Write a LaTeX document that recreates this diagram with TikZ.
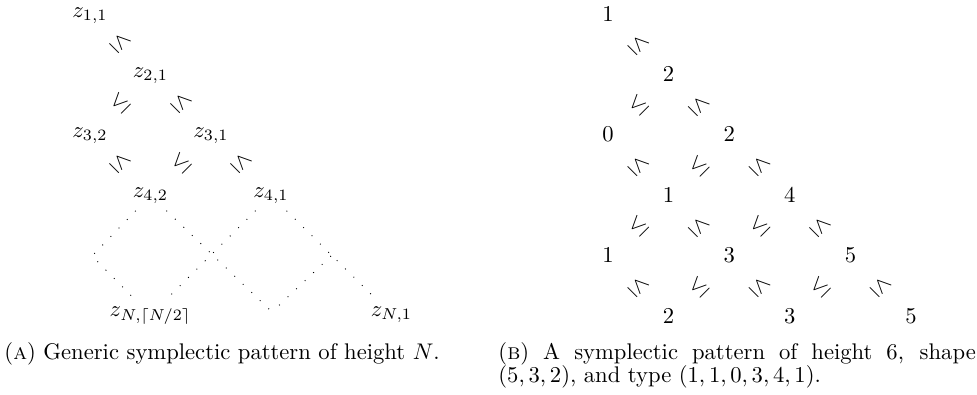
\documentclass[tikz,border=0pt]{standalone}
\usepackage{amsmath}
\usepackage{tikz}

\begin{document}
\begin{tikzpicture}[
    x=0.442pt, y=-0.442pt,
    entry/.style={anchor=base, inner sep=3pt},
    lenw/.style={rotate=-45, inner sep=0pt},
    lene/.style={rotate=45, inner sep=0pt},
    gap/.style={dash pattern=on 0.4pt off 4.8pt},
    captext/.style={anchor=base west, inner sep=0pt}
  ]
    \useasboundingbox (0,0) rectangle (977,394);
    % generic pattern
    \node[entry] (z11) at (90,17)    {$z_{1,1}$};
    \node[entry] (z21) at (150.5,77) {$z_{2,1}$};
    \node[entry] (z32) at (90,137)   {$z_{3,2}$};
    \node[entry] (z31) at (211,137)  {$z_{3,1}$};
    \node[entry] (z42) at (150.5,197){$z_{4,2}$};
    \node[entry] (z41) at (271,197)  {$z_{4,1}$};
    \node[entry] (zN2) at (150.5,316){$z_{N,\lceil N/2\rceil}$};
    \node[entry] (zN1) at (391.5,316){$z_{N,1}$};
    \node[lenw] (a1) at (120,43)  {$\leq$};
    \node[lene] (a2) at (120,103) {$\leq$};
    \node[lenw] (a3) at (181,103) {$\leq$};
    \node[lenw] (a4) at (120,163) {$\leq$};
    \node[lene] (a5) at (181,163) {$\leq$};
    \node[lenw] (a6) at (241,163) {$\leq$};
    \coordinate (lft) at (92,256);
    \coordinate (mid) at (272,312);
    \coordinate (rgt) at (331,256);
    \draw[gap] (z42) -- (lft) -- (zN2);
    \draw[gap] (z42) -- (mid);
    \draw[gap] (z41) -- (zN2);
    \draw[gap] (z41) -- (zN1);
    \draw[gap] (rgt) -- (mid);
    % example of height 6
    \node[entry] (p11) at (608,21)      {$1$};
    \node[entry] (p21) at (668.6,81.4)  {$2$};
    \node[entry] (p32) at (608,141.8)   {$0$};
    \node[entry] (p31) at (729.2,141.8) {$2$};
    \node[entry] (p42) at (668.6,202.2) {$1$};
    \node[entry] (p41) at (789.8,202.2) {$4$};
    \node[entry] (p53) at (608,262.6)   {$1$};
    \node[entry] (p52) at (729.2,262.6) {$3$};
    \node[entry] (p51) at (850.4,262.6) {$5$};
    \node[entry] (p63) at (668.6,323)   {$2$};
    \node[entry] (p62) at (789.8,323)   {$3$};
    \node[entry] (p61) at (911,323)     {$5$};
    \node[lenw] (b1)  at (638.3,45.2)  {$\leq$};
    \node[lene] (b2)  at (638.3,105.6) {$\leq$};
    \node[lenw] (b3)  at (698.9,105.6) {$\leq$};
    \node[lenw] (b4)  at (638.3,166)   {$\leq$};
    \node[lene] (b5)  at (698.9,166)   {$\leq$};
    \node[lenw] (b6)  at (759.5,166)   {$\leq$};
    \node[lene] (b7)  at (638.3,226.4) {$\leq$};
    \node[lenw] (b8)  at (698.9,226.4) {$\leq$};
    \node[lene] (b9)  at (759.5,226.4) {$\leq$};
    \node[lenw] (b10) at (820.1,226.4) {$\leq$};
    \node[lenw] (b11) at (638.3,286.8) {$\leq$};
    \node[lene] (b12) at (698.9,286.8) {$\leq$};
    \node[lenw] (b13) at (759.5,286.8) {$\leq$};
    \node[lene] (b14) at (820.1,286.8) {$\leq$};
    \node[lenw] (b15) at (880.7,286.8) {$\leq$};
    % captions
    \node[captext] (capa)  at (4,359)   {(\textsc{a}) Generic symplectic pattern of height $N$.};
    \node[captext] (capb)  at (498,359) {\makebox[211pt][s]{(\textsc{b}) A symplectic pattern of height 6, shape}};
    \node[captext] (capb2) at (498,382) {$(5,3,2)$, and type $(1,1,0,3,4,1)$.};
  \end{tikzpicture}
\end{document}
